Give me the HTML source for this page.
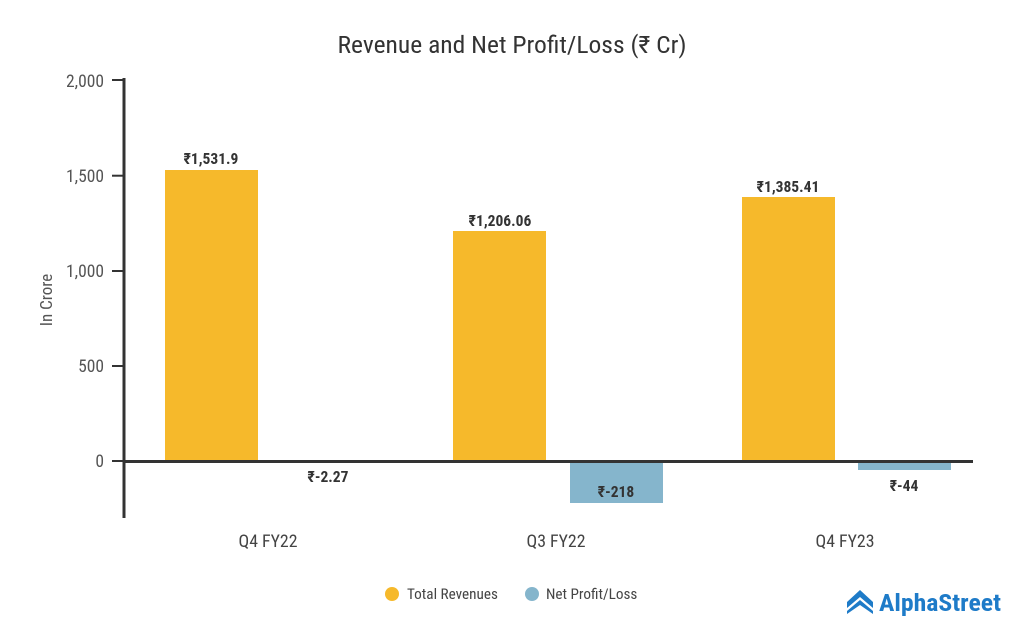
<!DOCTYPE html>
<html><head><meta charset="utf-8"><style>body{margin:0;background:#fff}svg{display:block}</style></head><body>
<svg width="1024" height="640" xmlns="http://www.w3.org/2000/svg" font-family="Roboto Condensed, Liberation Sans Narrow, Liberation Sans, sans-serif">
<text x="512" y="53" text-anchor="middle" font-size="24" fill="#333" textLength="349" lengthAdjust="spacingAndGlyphs">Revenue and Net Profit/Loss (₹ Cr)</text>
<text transform="translate(52,300) rotate(-90)" text-anchor="middle" font-size="17" fill="#555">In Crore</text>
<g font-size="17.5" fill="#555" text-anchor="end">
<text x="104" y="87">2,000</text><text x="104" y="182">1,500</text><text x="104" y="277">1,000</text><text x="104" y="372">500</text><text x="104" y="467">0</text>
</g>
<g stroke="#333" stroke-width="2">
<line x1="112" y1="80" x2="124" y2="80"/><line x1="112" y1="175.7" x2="124" y2="175.7"/><line x1="112" y1="271" x2="124" y2="271"/><line x1="112" y1="366" x2="124" y2="366"/><line x1="112" y1="461" x2="124" y2="461"/>
</g>
<g fill="#f6b92b">
<rect x="165" y="170" width="93" height="291"/>
<rect x="453" y="231" width="93" height="230"/>
<rect x="742" y="197" width="93" height="264"/>
</g>
<g fill="#85b5cc">
<rect x="281" y="461" width="93" height="1"/>
<rect x="570" y="461" width="93" height="42"/>
<rect x="858" y="461" width="93" height="9"/>
</g>
<line x1="124" y1="78" x2="124" y2="518" stroke="#333" stroke-width="3"/>
<line x1="124" y1="461.5" x2="973" y2="461.5" stroke="#333" stroke-width="3"/>
<g font-size="15.5" font-weight="bold" fill="#333" text-anchor="middle">
<text x="211" y="164">₹1,531.9</text>
<text x="500" y="226">₹1,206.06</text>
<text x="788" y="192">₹1,385.41</text>
<text x="328" y="482">₹-2.27</text>
<text x="616" y="497">₹-218</text>
<text x="904" y="491">₹-44</text>
</g>
<g font-size="17.8" fill="#444" text-anchor="middle">
<text x="268" y="547">Q4 FY22</text><text x="556" y="547">Q3 FY22</text><text x="845" y="547">Q4 FY23</text>
</g>
<circle cx="392" cy="594" r="7" fill="#f6b92b"/>
<text x="407" y="599" font-size="15.2" fill="#444">Total Revenues</text>
<circle cx="532" cy="594" r="7" fill="#85b5cc"/>
<text x="546" y="599" font-size="15.2" fill="#444">Net Profit/Loss</text>
<g fill="#1e7bc8">
<path d="M847 602 L860 590 L873 602 L873 608 L860 597 L847 608Z"/>
<path d="M847 611 L860 600 L873 611 L873 614 L860 605 L847 614Z"/>
</g>
<text x="879" y="611" font-size="24" font-weight="bold" fill="#1e7bc8" textLength="122" lengthAdjust="spacingAndGlyphs">AlphaStreet</text>
</svg>
</body></html>
